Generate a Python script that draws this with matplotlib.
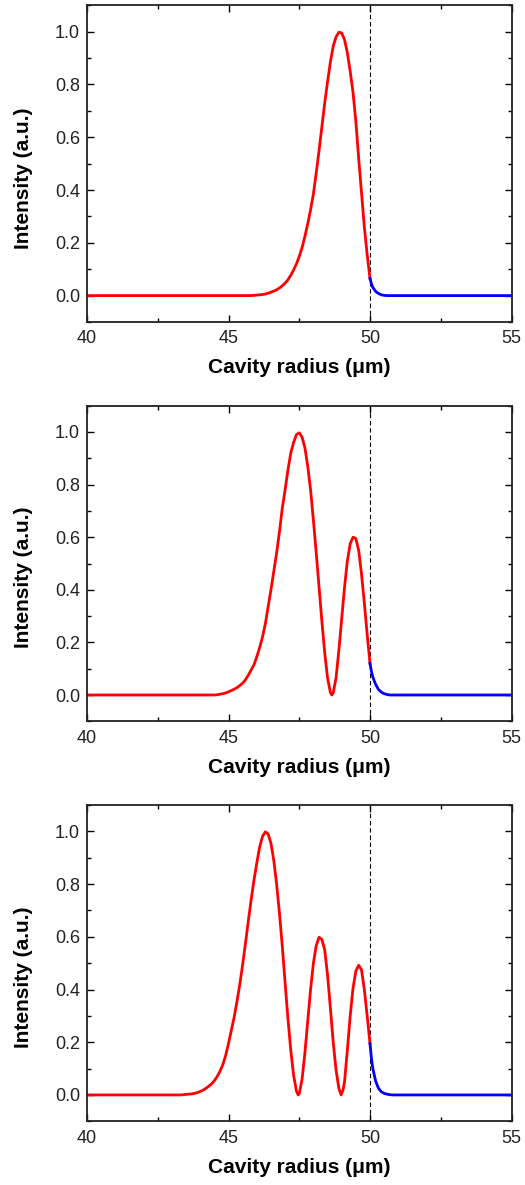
import matplotlib
matplotlib.use('Agg')
import matplotlib.pyplot as plt
from matplotlib.ticker import MultipleLocator

plt.rcParams['font.family'] = ['Liberation Sans', 'DejaVu Sans']

# painel 1: um maximo
r1_in = [40.0, 45.8, 45.9, 46.0, 46.1, 46.2, 46.3, 46.4, 46.5, 46.6, 46.7, 46.8, 46.9,
         47.0, 47.1, 47.2, 47.3, 47.4, 47.5, 47.6, 47.7, 47.8, 47.9, 48.0, 48.1, 48.2,
         48.3, 48.4, 48.5, 48.6, 48.7, 48.8, 48.9, 49.0, 49.1, 49.2, 49.3, 49.4, 49.5,
         49.6, 49.7, 49.8, 49.9, 50.0]
i1_in = [0.0, 0.0, 0.001, 0.002, 0.003, 0.004, 0.006, 0.009, 0.013, 0.017, 0.022, 0.029, 0.037,
         0.047, 0.060, 0.077, 0.097, 0.120, 0.148, 0.182, 0.225, 0.272, 0.325, 0.385, 0.465, 0.55,
         0.64, 0.73, 0.81, 0.885, 0.945, 0.98, 0.998, 0.995, 0.97, 0.92, 0.85, 0.77, 0.66,
         0.52, 0.39, 0.26, 0.155, 0.065]
r1_out = [50.0, 50.05, 50.1, 50.2, 50.3, 50.4, 50.5, 50.6, 55.0]
i1_out = [0.065, 0.045, 0.031, 0.016, 0.008, 0.003, 0.001, 0.0, 0.0]

# painel 2: dois maximos
r2_in = [40.0, 44.5, 44.6, 44.7, 44.8, 44.9, 45.0, 45.1, 45.2, 45.3, 45.4, 45.5, 45.6,
         45.7, 45.8, 45.9, 46.0, 46.1, 46.2, 46.3, 46.4, 46.5, 46.6, 46.7, 46.8, 46.9,
         47.0, 47.1, 47.2, 47.3, 47.4, 47.5, 47.6, 47.7, 47.8, 47.9, 48.0, 48.1, 48.2,
         48.3, 48.4, 48.5, 48.6, 48.65, 48.7, 48.8, 48.9, 49.0, 49.1, 49.2, 49.3, 49.4,
         49.5, 49.6, 49.7, 49.8, 49.9, 50.0]
i2_in = [0.0, 0.0, 0.001, 0.003, 0.005, 0.008, 0.012, 0.017, 0.022, 0.028, 0.036, 0.045, 0.058,
         0.075, 0.095, 0.115, 0.145, 0.18, 0.22, 0.27, 0.335, 0.40, 0.47, 0.54, 0.62, 0.71,
         0.78, 0.855, 0.92, 0.96, 0.99, 0.997, 0.98, 0.94, 0.87, 0.78, 0.665, 0.54, 0.41,
         0.28, 0.16, 0.065, 0.01, 0.0, 0.008, 0.065, 0.17, 0.29, 0.41, 0.51, 0.575, 0.60,
         0.595, 0.55, 0.46, 0.35, 0.23, 0.12]
r2_out = [50.0, 50.05, 50.1, 50.2, 50.3, 50.4, 50.5, 50.6, 50.7, 55.0]
i2_out = [0.12, 0.09, 0.068, 0.04, 0.021, 0.011, 0.005, 0.002, 0.0, 0.0]

# painel 3: tres maximos
r3_in = [40.0, 43.3, 43.4, 43.5, 43.6, 43.7, 43.8, 43.9, 44.0, 44.1, 44.2, 44.3, 44.4,
         44.5, 44.6, 44.7, 44.8, 44.9, 45.0, 45.1, 45.2, 45.3, 45.4, 45.5, 45.6, 45.7,
         45.8, 45.9, 46.0, 46.1, 46.2, 46.3, 46.4, 46.5, 46.6, 46.7, 46.8, 46.9, 47.0,
         47.1, 47.2, 47.3, 47.4, 47.46, 47.5, 47.6, 47.7, 47.8, 47.9, 48.0, 48.1, 48.2,
         48.3, 48.4, 48.5, 48.6, 48.7, 48.8, 48.9, 48.98, 49.05, 49.1, 49.2, 49.3, 49.4,
         49.5, 49.6, 49.7, 49.8, 49.9, 50.0]
i3_in = [0.0, 0.0, 0.001, 0.002, 0.003, 0.004, 0.006, 0.009, 0.013, 0.018, 0.025, 0.033, 0.042,
         0.054, 0.07, 0.09, 0.115, 0.15, 0.195, 0.245, 0.295, 0.355, 0.42, 0.495, 0.575, 0.66,
         0.74, 0.815, 0.88, 0.94, 0.98, 0.998, 0.99, 0.955, 0.89, 0.80, 0.69, 0.565, 0.425,
         0.29, 0.17, 0.075, 0.015, 0.0, 0.005, 0.06, 0.16, 0.28, 0.40, 0.50, 0.567, 0.598,
         0.59, 0.55, 0.455, 0.33, 0.20, 0.095, 0.025, 0.0, 0.02, 0.05, 0.17, 0.30, 0.405,
         0.47, 0.492, 0.475, 0.40, 0.30, 0.195]
r3_out = [50.0, 50.05, 50.1, 50.2, 50.3, 50.4, 50.5, 50.6, 50.7, 50.8, 55.0]
i3_out = [0.195, 0.14, 0.10, 0.052, 0.025, 0.012, 0.006, 0.003, 0.001, 0.0, 0.0]

paineis = [
    (r1_in, i1_in, r1_out, i1_out),
    (r2_in, i2_in, r2_out, i2_out),
    (r3_in, i3_in, r3_out, i3_out),
]

# posicao dos eixos em pixels (topo, base) dentro da figura 525x1185
topos = [5.3, 405.7, 805.0]
bases = [322.0, 721.3, 1121.3]


def desenhar_painel(ax, r_in, i_in, r_out, i_out):
    """Desenha um perfil radial: dentro da cavidade em vermelho, fora em azul."""
    ax.axvline(50, color='black', lw=0.8, ls=(0, (4, 2.5)), zorder=1)
    ax.plot(r_in, i_in, color='red', lw=2.0, solid_joinstyle='round', zorder=2)
    ax.plot(r_out, i_out, color='blue', lw=2.0, solid_joinstyle='round', zorder=3)

    ax.set_xlim(40, 55)
    ax.set_ylim(-0.1, 1.1)
    ax.xaxis.set_major_locator(MultipleLocator(5))
    ax.xaxis.set_minor_locator(MultipleLocator(2.5))
    ax.yaxis.set_major_locator(MultipleLocator(0.2))
    ax.yaxis.set_minor_locator(MultipleLocator(0.1))
    ax.yaxis.set_major_formatter(plt.FuncFormatter(lambda v, p: f"{v:.1f}"))
    ax.tick_params(which='both', direction='in', top=True, right=True,
                   width=1.0, labelsize=13, colors='black', labelcolor='#222222')
    ax.tick_params(which='major', length=5, pad=5)
    ax.tick_params(which='minor', length=3)
    ax.tick_params(axis='x', which='major', pad=6)
    for lado in ax.spines.values():
        lado.set_linewidth(1.3)
        lado.set_color('#222222')

    ax.set_xlabel('Cavity radius (\u03bcm)', fontsize=15, fontweight='bold', labelpad=8)
    ax.set_ylabel('Intensity (a.u.)', fontsize=15, fontweight='bold')
    ax.yaxis.set_label_coords(-0.127, 0.455)


fig = plt.figure(figsize=(5.25, 11.85), dpi=100)
W, H = 525.0, 1185.0
esquerda, direita = 87.0, 511.5

for (r_in, i_in, r_out, i_out), topo, base in zip(paineis, topos, bases):
    ax = fig.add_axes([esquerda / W, 1 - base / H, (direita - esquerda) / W, (base - topo) / H])
    desenhar_painel(ax, r_in, i_in, r_out, i_out)

fig.savefig('out.png', dpi=100)
